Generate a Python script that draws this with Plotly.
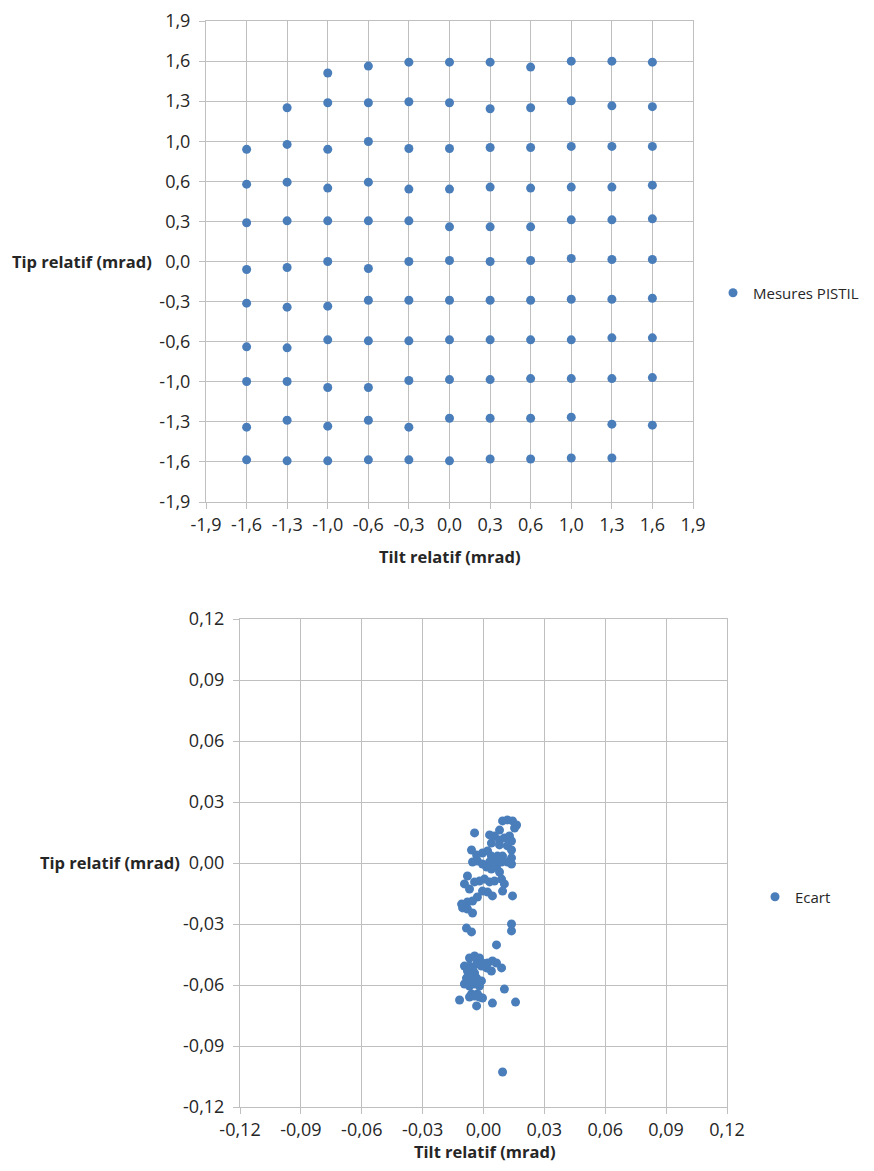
import plotly.graph_objects as go

# page body has an 8px margin; the figure is sized to fit inside the window
W, H = 874 - 16, 1171 - 16
OFF = 8

# ---------------- Top chart data: Mesures PISTIL ----------------
tilt_cols = [-1.583, -1.267, -0.95, -0.633, -0.317, 0.0, 0.317, 0.633, 0.95, 1.267, 1.583]

# each row: tip values per column (None = no point)
tip_row_16 = [None, None, 1.489, 1.544, 1.575, 1.575, 1.575, 1.536, 1.583, 1.583, 1.575]
tip_row_13 = [None, 1.215, 1.254, 1.254, 1.262, 1.254, 1.207, 1.215, 1.270, 1.230, 1.223]
tip_row_10 = [0.886, 0.925, 0.886, 0.948, 0.893, 0.893, 0.901, 0.901, 0.909, 0.909, 0.909]
tip_row_06 = [0.611, 0.627, 0.580, 0.627, 0.572, 0.572, 0.588, 0.580, 0.588, 0.588, 0.603]
tip_row_03 = [0.306, 0.321, 0.321, 0.321, 0.321, 0.274, 0.274, 0.274, 0.329, 0.329, 0.337]
tip_row_00 = [-0.063, -0.047, 0.0, -0.055, 0.0, 0.008, 0.0, 0.008, 0.024, 0.016, 0.016]
tip_row_m03 = [-0.329, -0.361, -0.353, -0.306, -0.306, -0.306, -0.306, -0.306, -0.298, -0.298, -0.290]
tip_row_m06 = [-0.674, -0.682, -0.619, -0.627, -0.627, -0.619, -0.619, -0.619, -0.619, -0.603, -0.603]
tip_row_m10 = [-0.948, -0.948, -0.995, -0.995, -0.940, -0.933, -0.933, -0.925, -0.925, -0.925, -0.917]
tip_row_m13 = [-1.309, -1.254, -1.301, -1.254, -1.309, -1.238, -1.238, -1.238, -1.230, -1.285, -1.293]
tip_row_m16 = [-1.567, -1.575, -1.575, -1.567, -1.567, -1.575, -1.560, -1.560, -1.552, -1.552, None]

tip_rows = [tip_row_16, tip_row_13, tip_row_10, tip_row_06, tip_row_03, tip_row_00,
            tip_row_m03, tip_row_m06, tip_row_m10, tip_row_m13, tip_row_m16]

top_ticks = [-1.9 + i * 3.8 / 12 for i in range(13)]
top_tick_text = ["-1,9", "-1,6", "-1,3", "-1,0", "-0,6", "-0,3", "0,0",
                 "0,3", "0,6", "1,0", "1,3", "1,6", "1,9"]

# ---------------- Bottom chart data: Ecart ----------------
ecart_tilt = [
    0.0094, 0.0118, 0.0143, 0.0163, 0.0153, 0.0079, -0.0044, 0.0030, 0.0054, 0.0079,
    0.0103, 0.0128, 0.0138, 0.0039, 0.0079, 0.0118, 0.0138, -0.0059, -0.0034, -0.0005,
    0.0020, 0.0039, 0.0069, 0.0094, 0.0138,
    -0.0054, -0.0030, -0.0005, 0.0030, 0.0064, 0.0089, 0.0118, 0.0138, 0.0015, 0.0039,
    0.0064, 0.0079, -0.0079, -0.0094, -0.0069, -0.0044, -0.0020, 0.0005, 0.0030, 0.0054,
    0.0089, 0.0103, -0.0005, 0.0020, 0.0044, 0.0094, 0.0143, -0.0030, -0.0108, -0.0079,
    -0.0054,
    -0.0103, -0.0079, -0.0054, -0.0084, -0.0059, 0.0138, 0.0138, 0.0064,
    -0.0069, -0.0044, -0.0020, -0.0030, -0.0005, 0.0020, 0.0044, 0.0064, 0.0089, -0.0094,
    -0.0069, -0.0054, -0.0034, -0.0010, 0.0015, 0.0039, -0.0079, -0.0069, -0.0044, -0.0084,
    -0.0059, -0.0034, -0.0010, -0.0094, -0.0069, -0.0044, -0.0020, -0.0059, -0.0030, 0.0103,
    -0.0118, -0.0069, -0.0044, -0.0020, -0.0005, -0.0034, 0.0044, 0.0158, 0.0094,
]
ecart_tip = [
    0.0207, 0.0212, 0.0207, 0.0187, 0.0172, 0.0162, 0.0148, 0.0138, 0.0133, 0.0113,
    0.0123, 0.0133, 0.0108, 0.0098, 0.0089, 0.0084, 0.0064, 0.0064, 0.0039, 0.0049,
    0.0059, 0.0034, 0.0034, 0.0034, 0.0025,
    0.0005, 0.0010, -0.0005, 0.0005, 0.0010, 0.0005, 0.0005, -0.0005, -0.0020, -0.0030,
    -0.0020, -0.0044, -0.0064, -0.0103, -0.0128, -0.0093, -0.0089, -0.0079, -0.0093, -0.0089,
    -0.0079, -0.0103, -0.0138, -0.0143, -0.0162, -0.0138, -0.0162, -0.0167, -0.0202, -0.0192,
    -0.0187,
    -0.0221, -0.0226, -0.0246, -0.0320, -0.0339, -0.0300, -0.0334, -0.0403,
    -0.0467, -0.0457, -0.0467, -0.0482, -0.0492, -0.0492, -0.0482, -0.0492, -0.0516, -0.0507,
    -0.0507, -0.0516, -0.0497, -0.0507, -0.0516, -0.0531, -0.0531, -0.0546, -0.0541, -0.0566,
    -0.0571, -0.0566, -0.0580, -0.0595, -0.0605, -0.0595, -0.0605, -0.0644, -0.0644, -0.0620,
    -0.0674, -0.0659, -0.0654, -0.0659, -0.0664, -0.0703, -0.0689, -0.0684, -0.1028,
]

bot_ticks = [-0.12, -0.09, -0.06, -0.03, 0.0, 0.03, 0.06, 0.09, 0.12]
bot_tick_text = ["-0,12", "-0,09", "-0,06", "-0,03", "0,00", "0,03", "0,06", "0,09", "0,12"]

# ---------------- Build figure ----------------
top_x, top_y = [], []
for row in tip_rows:
    for cx, cy in zip(tilt_cols, row):
        if cy is not None:
            top_x.append(cx)
            top_y.append(cy)

BLUE = "#4A7EBB"
GRID = "#BFBFBF"
TXT = "#262626"
FONT = "Open Sans"


def px(x):
    return (x - OFF) / W


def py(y):
    return 1 - (y - OFF) / H


fig = go.Figure()
fig.add_trace(go.Scatter(x=top_x, y=top_y, mode="markers", name="Mesures PISTIL",
                         marker=dict(color=BLUE, size=9), xaxis="x", yaxis="y",
                         legend="legend"))
fig.add_trace(go.Scatter(x=ecart_tilt, y=ecart_tip, mode="markers", name="Ecart",
                         marker=dict(color=BLUE, size=9), xaxis="x2", yaxis="y2",
                         legend="legend2"))


def ax(domain, rng, ticks, text, anchor):
    return dict(domain=domain, range=rng, tickvals=ticks, ticktext=text,
                showgrid=True, gridcolor=GRID, gridwidth=1, zeroline=False,
                showline=True, linecolor=GRID, linewidth=1, mirror=True,
                ticks="outside", ticklen=6, tickcolor=GRID, tickwidth=1,
                tickfont=dict(family=FONT, size=18, color=TXT),
                ticklabeloverflow="allow",
                anchor=anchor, fixedrange=True, automargin=False)


top_xd = [px(206), px(693)]
top_yd = [py(502), py(21)]
bot_xd = [px(240), px(727)]
bot_yd = [py(1107), py(619)]

xa1 = ax(top_xd, [-1.9, 1.9], top_ticks, top_tick_text, "y")
ya1 = ax(top_yd, [-1.9, 1.9], top_ticks, top_tick_text, "x")
xa2 = ax(bot_xd, [-0.12, 0.12], bot_ticks, bot_tick_text, "y2")
ya2 = ax(bot_yd, [-0.12, 0.12], bot_ticks, bot_tick_text, "x2")
for a in (ya1, ya2):
    a["ticklabelstandoff"] = 5

title_font = dict(family=FONT, size=16.5, color=TXT, weight="bold")
annotations = [
    dict(text="Tip relatif (mrad)", xref="paper", yref="paper", x=px(10), y=py(261),
         xanchor="left", yanchor="middle", showarrow=False, font=title_font),
    dict(text="Tilt relatif (mrad)", xref="paper", yref="paper", x=px(449), y=py(556),
         xanchor="center", yanchor="middle", showarrow=False, font=title_font),
    dict(text="Tip relatif (mrad)", xref="paper", yref="paper", x=px(38), y=py(862),
         xanchor="left", yanchor="middle", showarrow=False, font=title_font),
    dict(text="Tilt relatif (mrad)", xref="paper", yref="paper", x=px(484), y=py(1151),
         xanchor="center", yanchor="middle", showarrow=False, font=title_font),
]

leg_font = dict(family=FONT, size=15, color=TXT)
fig.update_layout(
    width=W, height=H, autosize=False,
    margin=dict(l=0, r=0, t=0, b=0, autoexpand=False),
    paper_bgcolor="white", plot_bgcolor="white",
    xaxis=xa1, yaxis=ya1, xaxis2=xa2, yaxis2=ya2,
    annotations=annotations,
    showlegend=True,
    legend=dict(x=px(713), y=py(293), xanchor="left", yanchor="middle",
                font=leg_font, bgcolor="rgba(0,0,0,0)", itemclick=False),
    legend2=dict(x=px(755), y=py(897), xanchor="left", yanchor="middle",
                 font=leg_font, bgcolor="rgba(0,0,0,0)", itemclick=False),
)

fig.write_html("out.html")
